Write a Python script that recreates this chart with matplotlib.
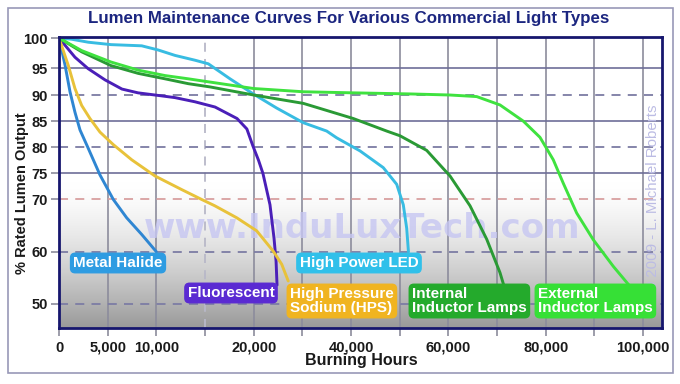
import numpy as np
import matplotlib
matplotlib.use("Agg")
import matplotlib.pyplot as plt
from matplotlib import font_manager as fm
from matplotlib.patches import Rectangle

# ---------------- data ----------------
mh_x = [0, 620, 1130, 1640, 2160, 2980, 4210, 5580, 6950, 8500, 10000]
mh_y = [100, 95.5, 90.6, 86.7, 83.3, 79.9, 74.7, 70, 66.5, 63.3, 60]

fl_x = [0, 1640, 2980, 4730, 6470, 8120, 9860, 11920, 13970, 16030, 18290, 19300, 19930, 21000, 21900, 23350, 24180, 24600, 24800]
fl_y = [100, 96.8, 94.9, 92.8, 91.1, 90.4, 90, 89.5, 88.7, 87.7, 85.5, 83.5, 80.2, 77.5, 75, 69, 62.6, 58.2, 53.6]

hps_x = [0, 960, 1640, 2330, 3180, 4210, 5580, 7470, 9860, 12600, 14660, 16000, 18260, 20620, 24030, 25760, 27100]
hps_y = [100, 95.4, 91.2, 88.0, 85.5, 82.9, 80.5, 77.6, 74.5, 71.9, 70, 68.8, 66.5, 64, 60.1, 57.6, 54.4]

led_x = [0, 1300, 3010, 5340, 8500, 10200, 11920, 13970, 15340, 17570, 19960, 24730, 30190, 35000, 37060, 41850, 46630, 49390, 50740, 51440, 51800]
led_y = [100, 99.8, 99.3, 98.9, 98.7, 98, 97.1, 96.3, 95.7, 93, 90.2, 87.5, 84.7, 83.1, 81.8, 79.3, 76.1, 72.9, 69, 64.5, 60]

int_x = [0, 2330, 5340, 8150, 10890, 13280, 15510, 20000, 30200, 40470, 47330, 50060, 55550, 60340, 64450, 67880, 70610, 71800]
int_y = [100, 97.7, 95.4, 94, 93, 92.1, 91.5, 90, 88.4, 85.5, 83.1, 82.2, 79.4, 74.5, 68.8, 62.4, 56, 52.3]

ext_x = [0, 2330, 5340, 8150, 10890, 13280, 15510, 20000, 30200, 40470, 52120, 60340, 65820, 70610, 75400, 78830, 81560, 83620, 86370, 89780, 93890, 97300]
ext_y = [100, 97.9, 96, 94.6, 93.6, 93, 92.4, 91.2, 90.6, 90.4, 90.2, 90, 89.7, 88.1, 85, 81.9, 77.6, 73.1, 67.4, 62.3, 57.2, 53.4]

x_grid = [0, 5000, 10000, 15000, 20000, 30000, 40000, 50000, 60000, 70000, 80000, 90000, 100000]
x_labels = ['0', '5,000', '10,000', '', '20,000', '', '40,000', '', '60,000', '', '80,000', '', '100,000']
y_ticks = [50, 60, 70, 75, 80, 85, 90, 95, 100]
y_solid = [75, 85, 95]
y_dashed = [50, 60, 80, 90]
y_red = [70]

series_names = ['Metal Halide', 'Fluorescent', 'High Pressure\nSodium (HPS)', 'High Power LED',
                'Internal\nInductor Lamps', 'External\nInductor Lamps']

# ---------------- fonts ----------------
avail = {f.name for f in fm.fontManager.ttflist}
narrow = 'Liberation Sans Narrow' if 'Liberation Sans Narrow' in avail else 'Liberation Sans'
arial = 'Liberation Sans'

# ---------------- scales ----------------
xk = [-100000, 0, 20000, 200000]
xu = [-20, 0, 4, 22]
def xf(x):
    return np.interp(x, xk, xu)
def xi(u):
    return np.interp(u, xu, xk)

yk = [-100, 50, 90, 95, 100, 300]
yt = [96 - 150 * 5.225, 96, 305, 332, 362, 362 + 200 * 6]
def yf(v):
    return np.interp(v, yk, yt)
def yi(t):
    return np.interp(t, yt, yk)

W, H = 680, 384
fig = plt.figure(figsize=(6.8, 3.84), dpi=100)
fig.patch.set_facecolor('white')

L, R, T, B = 59, 662, 37, 328
pos = [L / W, 1 - B / H, (R - L) / W, (B - T) / H]

# background gradient
bg = fig.add_axes(pos, zorder=0)
f = np.linspace(0, 1, 300)
lum = np.where(f < 0.5, 1 - 0.4 * np.clip(1 - f / 0.5, 0, 1) ** 1.5, 1.0)
img = lum[:, None, None] * np.ones((1, 2, 3))
bg.imshow(img, origin='lower', extent=[0, 1, 0, 1], aspect='auto')
bg.set_axis_off()

ax = fig.add_axes(pos, zorder=1)
ax.set_facecolor('none')
ax.set_xscale('function', functions=(xf, xi))
ax.set_yscale('function', functions=(yf, yi))
ax.set_xlim(0, 103900)
ax.set_ylim(45.4, 100.17)

# grid
for xv in x_grid[1:]:
    if xv == 15000:
        ax.axvline(xv, color='#b8b8c8', lw=1.3, ls=(0, (5, 4)), zorder=1)
    else:
        ax.axvline(xv, color='#8c8c9c', lw=1.2, zorder=1)
for yv in y_solid:
    ax.axhline(yv, color='#6e6e98', lw=1.2, zorder=1)
for yv in y_dashed:
    ax.axhline(yv, color='#7c7ca4', lw=1.3, ls=(0, (5, 4)), zorder=1)
for yv in y_red:
    ax.axhline(yv, color='#d8a0a0', lw=1.3, ls=(0, (5, 4)), zorder=1)

# watermark
ax.text(0.503, 0.343, 'www.InduLuxTech.com', transform=ax.transAxes, ha='center', va='center',
        fontsize=24.5, fontweight='bold', color='#c6c6f2', alpha=0.8, family='DejaVu Sans', zorder=2)
ax.text((653 - L) / (R - L), (B - 198) / (B - T), '\u00a9 2009 - L. Michael Roberts', transform=ax.transAxes,
        rotation=90, ha='center', va='center', fontsize=10.8, color='#bcbce4', family=arial, zorder=2)

# curves
line_cols = ['#2f86d2', '#4a1fb8', '#e8c23a', '#38bce2', '#2a9a35', '#3fe23f']
box_cols = ['#2e9ce2', '#5a2ad2', '#f0b420', '#30c0ea', '#24aa2c', '#36e036']
xs = [mh_x, fl_x, hps_x, led_x, int_x, ext_x]
ys = [mh_y, fl_y, hps_y, led_y, int_y, ext_y]
for xx, yy, c in zip(xs, ys, line_cols):
    ax.plot(xx, yy, color=c, lw=2.1, zorder=3, solid_capstyle='round', solid_joinstyle='round')

# labels (pixel anchors -> axes fraction)
def af(px, py):
    return (px - L) / (R - L), (B - py) / (B - T)

label_pos = [(118, 263, 'center'), (231, 293, 'center'), (290, 301, 'left'),
             (359, 263, 'center'), (412, 301, 'left'), (538, 301, 'left')]
for name, (px, py, ha), bc in zip(series_names, label_pos, box_cols):
    x0, y0 = af(px, py)
    ax.text(x0, y0, name, transform=ax.transAxes, ha=ha, va='center', ma='left',
            fontsize=11, fontweight='bold', color='white', family=arial, linespacing=1.0,
            zorder=5, bbox=dict(boxstyle='round,pad=0.18,rounding_size=0.3', fc=bc, ec=bc))

# axes styling
for s in ax.spines.values():
    s.set_color('#16166e')
    s.set_linewidth(2.0)
    s.set_zorder(6)
ax.set_xticks(x_grid)
ax.set_xticklabels(x_labels)
ax.set_yticks(y_ticks)
ax.set_yticklabels([str(v) for v in y_ticks])
ax.tick_params(axis='both', colors='#8c8c9c', length=6, width=1.2, labelcolor='#1a1a1a', labelsize=10.5)
ax.tick_params(axis='x', pad=3)
ax.tick_params(axis='y', pad=2)
ax.minorticks_off()
for lab in ax.get_xticklabels() + ax.get_yticklabels():
    lab.set_fontweight('bold')
    lab.set_family(narrow)

ax.set_xlabel('Burning Hours', fontsize=11.5, fontweight='bold', family=narrow, color='#1a1a1a')
ax.set_ylabel('% Rated Lumen Output', fontsize=10.5, fontweight='bold', family=narrow, color='#1a1a1a')
ax.xaxis.set_label_coords(0.5 + 1 / 603, (B - 353) / (B - T))
ax.yaxis.set_label_coords((29 - L) / (R - L), (B - 193) / (B - T))

fig.text(349 / W, 1 - 19 / H, 'Lumen Maintenance Curves For Various Commercial Light Types',
         ha='center', va='center', fontsize=12.2, fontweight='bold', color='#1c2680', family=narrow)

# outer frame
fig.add_artist(Rectangle((8 / W, 1 - 373 / H), (673 - 8) / W, (373 - 8) / H, transform=fig.transFigure,
                         fill=False, ec='#9898b8', lw=1.2, zorder=0))

fig.savefig('out.png', dpi=100)
